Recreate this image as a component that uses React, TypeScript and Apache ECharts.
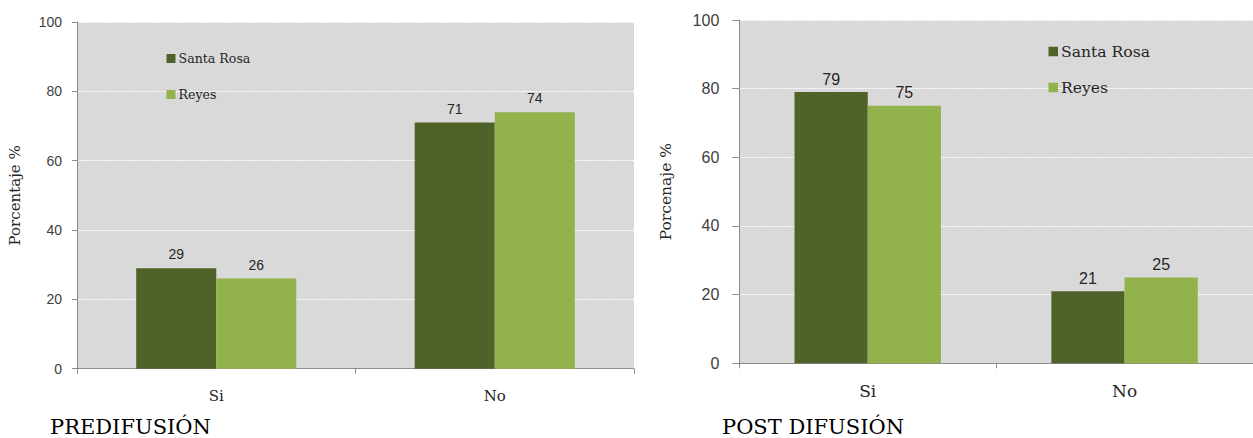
import React, { useEffect, useRef } from "react";
import * as echarts from "echarts";

const categories = ["Si", "No"];
const seriesNames = ["Santa Rosa", "Reyes"];
const preSantaRosa = [29, 71];
const preReyes = [26, 74];
const postSantaRosa = [79, 21];
const postReyes = [75, 25];
const yTicks = { min: 0, max: 100, interval: 20 };

const DARK = "#4f6228";
const LIGHT = "#92b24b";
const SERIF = "DejaVu Serif";
const SANS = "Liberation Sans";
const AXIS_GRAY = "#8c8c8c";

export default function App() {
  const ref = useRef<HTMLDivElement>(null);
  useEffect(() => {
    if (!ref.current) return;
    const chart = echarts.init(ref.current, null, { renderer: "svg" });

    const yAxisBase = (gridIndex: number, name: string, nameGap: number, fs: number, nameFs: number, margin: number, tickLen: number) => ({
      type: "value",
      gridIndex,
      min: yTicks.min,
      max: yTicks.max,
      interval: yTicks.interval,
      name,
      nameLocation: "middle",
      nameRotate: 90,
      nameGap,
      nameTextStyle: { fontFamily: SERIF, fontSize: nameFs, color: "#262626" },
      axisLine: { show: true, lineStyle: { color: AXIS_GRAY, width: 1 } },
      axisTick: { show: true, length: tickLen, lineStyle: { color: AXIS_GRAY } },
      axisLabel: { fontFamily: SANS, fontSize: fs, color: "#404040", margin },
      splitLine: { show: true, lineStyle: { color: "#ffffff", type: [2, 1], width: 1 } },
    });

    const xAxisBase = (gridIndex: number, fs: number, margin: number) => ({
      type: "category",
      gridIndex,
      data: categories,
      axisLine: { show: true, lineStyle: { color: AXIS_GRAY, width: 1 } },
      axisTick: { show: true, length: 5, alignWithLabel: false, lineStyle: { color: AXIS_GRAY } },
      axisLabel: { fontFamily: SERIF, fontSize: fs, color: "#262626", margin },
      splitLine: { show: false },
    });

    const barSeries = (name: string, data: number[], color: string, idx: number, fs: number, gapCat: string, dist: number) => ({
      type: "bar",
      name,
      data,
      xAxisIndex: idx,
      yAxisIndex: idx,
      barGap: "0%",
      barCategoryGap: gapCat,
      itemStyle: { color },
      label: {
        show: true,
        position: "top",
        distance: dist,
        fontFamily: SANS,
        fontSize: fs,
        color: "#262626",
      },
    });

    const legendItem = (name: string, left: number, top: number, size: number, fs: number) => ({
      orient: "vertical",
      left,
      top,
      padding: 0,
      itemWidth: size,
      itemHeight: size,
      icon: "rect",
      selectedMode: false,
      data: [name],
      textStyle: { fontFamily: SERIF, fontSize: fs, color: "#262626", padding: [0, 0, 0, -2] },
    });

    chart.setOption({
      animation: false,
      backgroundColor: "#ffffff",
      grid: [
        { left: 77, top: 22, width: 557, height: 346.7, show: true, backgroundColor: "#d9d9d9", borderWidth: 0 },
        { left: 739.3, top: 20, width: 519.4, height: 343.3, show: true, backgroundColor: "#d9d9d9", borderWidth: 0 },
      ],
      xAxis: [xAxisBase(0, 15, 20), xAxisBase(1, 17, 19)],
      yAxis: [
        yAxisBase(0, "Porcentaje %", 55, 14, 15, 15, 5),
        yAxisBase(1, "Porcenaje %", 65, 16, 15.5, 20, 7),
      ],
      legend: [
        legendItem(seriesNames[0], 166.5, 52, 9, 12.6),
        legendItem(seriesNames[1], 166.5, 88, 9, 12.6),
        legendItem(seriesNames[0], 1048.5, 43.5, 9.5, 15.6),
        legendItem(seriesNames[1], 1048.5, 79.5, 9.5, 15.6),
      ],
      graphic: [
        { type: "text", left: 50, top: 416, style: { text: "PREDIFUSIÓN", fontFamily: SERIF, fontSize: 21, fill: "#000000" } },
        { type: "text", left: 722, top: 416, style: { text: "POST DIFUSIÓN", fontFamily: SERIF, fontSize: 21, fill: "#000000" } },
      ],
      series: [
        barSeries(seriesNames[0], preSantaRosa, DARK, 0, 14, "42.5%", 7),
        barSeries(seriesNames[1], preReyes, LIGHT, 0, 14, "42.5%", 7),
        barSeries(seriesNames[0], postSantaRosa, DARK, 1, 16, "43%", 5),
        barSeries(seriesNames[1], postReyes, LIGHT, 1, 16, "43%", 5),
      ],
    });
    return () => chart.dispose();
  }, []);
  return (
    <div
      ref={ref}
      style={{ position: "fixed", left: 0, top: 0, width: 1253, height: 438, background: "#fff" }}
    />
  );
}
